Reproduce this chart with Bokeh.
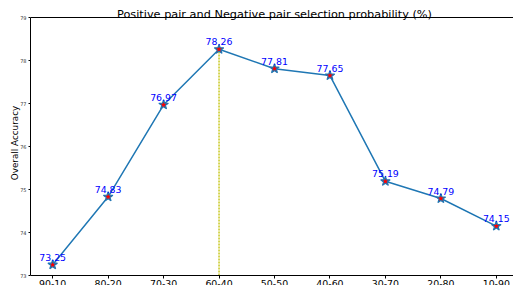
import numpy as np
from bokeh.plotting import figure
from bokeh.models import ColumnDataSource, LabelSet, Label, Span, FixedTicker, Range1d
from bokeh.embed import file_html
from bokeh.resources import INLINE
from bokeh.core.properties import value

categories = ["90-10", "80-20", "70-30", "60-40", "50-50", "40-60", "30-70", "20-80", "10-90"]
accuracy = [73.25, 74.83, 76.97, 78.26, 77.81, 77.65, 75.19, 74.79, 74.15]
y_ticks = [73, 74, 75, 76, 77, 78, 79]
title_text = "Positive pair and Negative pair selection probability (%)"
y_label_text = "Overall Accuracy"

FONT = "DejaVu Sans"
xs = list(range(len(categories)))
best = int(np.argmax(accuracy))
y_lo, y_hi = y_ticks[0], y_ticks[-1]

src = ColumnDataSource(dict(x=xs, y=accuracy, cat=categories,
                            lab=[f"{v:.2f}" for v in accuracy]))

# frame covers the full height; axes drawn at fixed data locations
p = figure(width=513, height=285,
           x_range=Range1d(-0.4, 8.31),
           y_range=Range1d(y_lo - 10 / 43, y_hi + 17 / 43),
           output_backend="svg", toolbar_location=None,
           min_border_left=30, min_border_right=0, min_border_top=0, min_border_bottom=0)
p.outline_line_color = None
p.grid.visible = False
p.background_fill_color = "white"

# y axis (left spine between 73 and 79)
p.yaxis.ticker = FixedTicker(ticks=y_ticks)
p.yaxis.bounds = (y_lo, y_hi)
p.yaxis.major_label_text_font_size = "5px"
p.yaxis.major_label_text_font = FONT
p.yaxis.major_label_text_color = "#333333"
p.yaxis.major_tick_in = 0
p.yaxis.major_tick_out = 2
p.yaxis.major_label_standoff = 2
p.yaxis.minor_tick_line_color = None
p.yaxis.axis_line_color = "black"
p.yaxis.axis_label = y_label_text
p.yaxis.axis_label_text_font = FONT
p.yaxis.axis_label_text_font_size = "8.8px"
p.yaxis.axis_label_text_font_style = "normal"
p.yaxis.axis_label_text_color = "black"
p.yaxis.axis_label_standoff = -3

# x axis drawn at y = 73
p.xaxis.fixed_location = y_lo
p.xaxis.ticker = FixedTicker(ticks=xs)
p.xaxis.major_label_overrides = {i: c for i, c in zip(xs, categories)}
p.xaxis.major_label_text_font_size = "9.4px"
p.xaxis.major_label_text_font = FONT
p.xaxis.major_label_text_color = "black"
p.xaxis.major_tick_in = 0
p.xaxis.major_tick_out = 3
p.xaxis.major_label_standoff = 1
p.xaxis.minor_tick_line_color = None
p.xaxis.axis_line_color = "black"

# top spine
p.add_layout(Span(location=y_hi, dimension="width", line_color="black", line_width=1))

# highlight line at the best point
p.segment(x0=[xs[best]], y0=[y_lo], x1=[xs[best]], y1=[accuracy[best]],
          line_color="#c8c820", line_dash="2 1", line_width=1.5)

p.line("x", "y", source=src, line_color="#1f77b4", line_width=1.5)
p.scatter("x", "y", source=src, marker="star", size=10,
          fill_color="red", line_color="#1f77b4", line_width=1.2)

p.add_layout(LabelSet(x="x", y="y", text="lab", source=src, text_align="center",
                      text_baseline="alphabetic", y_offset=4, text_color="blue",
                      text_font_size="9.4px", text_font=value(FONT)))

# title
p.add_layout(Label(x=4.0, y=79.081, text=title_text, text_align="center",
                   text_baseline="alphabetic", text_font_size="11.3px",
                   text_font=FONT, text_color="black"))

open("out.html", "w").write(file_html(p, INLINE))
